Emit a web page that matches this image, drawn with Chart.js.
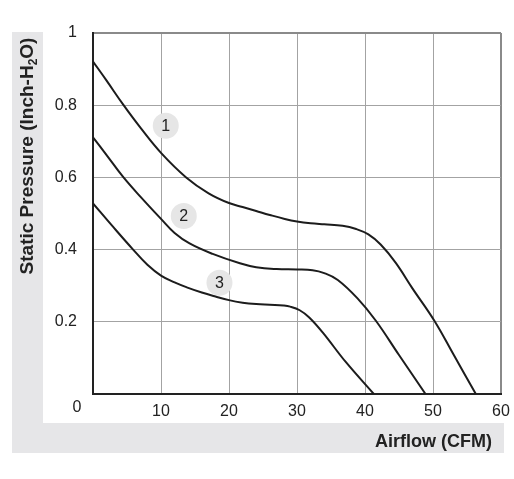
<!DOCTYPE html>
<html>
<head>
<meta charset="utf-8">
<title>Fan curve</title>
<script src="https://cdn.jsdelivr.net/npm/chart.js@4.4.0/dist/chart.umd.min.js"></script>
<style>
  html, body { margin: 0; padding: 0; background: #fff; }
</style>
</head>
<body>
<canvas id="chart" width="514" height="479"></canvas>
<script>
// airflow (CFM) and static pressure (inch-H2O)
const curve1Flow = [0, 2, 4.5, 7, 10, 13.7, 17, 20, 22, 24, 26, 28.2, 30, 32, 34, 36.7, 38.7, 40.5, 42.3, 44.5, 47, 50.2, 53, 56.3];
const curve1Pressure = [0.921, 0.868, 0.8, 0.737, 0.668, 0.6, 0.556, 0.529, 0.518, 0.507, 0.496, 0.485, 0.478, 0.473, 0.47, 0.466, 0.457, 0.442, 0.414, 0.364, 0.292, 0.203, 0.11, 0];

const curve2Flow = [0, 2, 4.4, 7, 10, 12, 14.2, 17.6, 21.6, 24, 27, 30, 32.3, 34, 36, 38.9, 41.6, 45, 48.9];
const curve2Pressure = [0.711, 0.662, 0.602, 0.546, 0.485, 0.446, 0.417, 0.388, 0.362, 0.351, 0.346, 0.345, 0.343, 0.335, 0.316, 0.265, 0.203, 0.108, 0];

const curve3Flow = [0, 3, 5.9, 8, 10, 12, 14, 16, 18, 20, 22, 24, 26, 28, 29, 30.4, 31.8, 33.8, 37.2, 41.3];
const curve3Pressure = [0.528, 0.462, 0.4, 0.358, 0.328, 0.309, 0.294, 0.281, 0.27, 0.26, 0.253, 0.249, 0.247, 0.245, 0.242, 0.232, 0.212, 0.17, 0.088, 0];

// the little numbered circles next to the curves
const markerNames = ['1', '2', '3'];
const markerFlow = [10.7, 13.35, 18.6];
const markerPressure = [0.743, 0.493, 0.308];

// tick labels
const xTicks = [0, 10, 20, 30, 40, 50, 60];
const xTickLabels = ['0', '10', '20', '30', '40', '50', '60'];
const yTicks = [0, 0.2, 0.4, 0.6, 0.8, 1];
const yTickLabels = ['0', '0.2', '0.4', '0.6', '0.8', '1'];

const canvas = document.querySelector('#chart');
const FONT = '"Liberation Sans", Arial, sans-serif';

function toPoints(xs, ys) {
    return xs.map((x, i) => ({ x: x, y: ys[i] }));
}

function curve(xs, ys) {
    return {
        data: toPoints(xs, ys),
        showLine: true,
        borderColor: '#1c1c1c',
        borderWidth: 2,
        pointRadius: 0,
        tension: 0.4,
        fill: false
    };
}

// gray bands, titles, circle numbers and the lonely 0 in the corner
const extras = {
    id: 'extras',
    beforeDraw(chart) {
        const ctx = chart.ctx;
        ctx.save();
        ctx.fillStyle = '#e6e6e8';
        ctx.fillRect(12, 32, 31, 421);
        ctx.fillRect(12, 423, 492, 30);
        ctx.restore();
    },
    afterDatasetsDraw(chart) {
        const ctx = chart.ctx;
        ctx.save();

        // numbers in the circles
        const meta = chart.getDatasetMeta(3);
        ctx.fillStyle = '#222';
        ctx.font = '16px ' + FONT;
        ctx.textAlign = 'center';
        ctx.textBaseline = 'middle';
        meta.data.forEach((pt, i) => {
            ctx.fillText(markerNames[i], pt.x, pt.y + 1);
        });

        // the 0 sits below the axes, left of the corner
        ctx.font = '16px ' + FONT;
        ctx.fillText('0', 77, 408);

        // x title
        ctx.font = 'bold 18px ' + FONT;
        ctx.textAlign = 'right';
        ctx.textBaseline = 'alphabetic';
        ctx.fillText('Airflow (CFM)', 492, 447);

        // y title, rotated, with a small 2
        const big = 'bold 19px ' + FONT;
        const small = 'bold 12px ' + FONT;
        const p1 = 'Static Pressure (Inch-H';
        const p2 = 'O)';
        ctx.font = big;
        const w1 = ctx.measureText(p1).width;
        const w3 = ctx.measureText(p2).width;
        ctx.font = small;
        const w2 = ctx.measureText('2').width;
        const total = w1 + w2 + w3;
        ctx.translate(26, 156);
        ctx.rotate(-Math.PI / 2);
        ctx.textAlign = 'left';
        let x = -total / 2;
        ctx.font = big;
        ctx.fillText(p1, x, 7);
        x += w1;
        ctx.font = small;
        ctx.fillText('2', x, 11);
        x += w2;
        ctx.font = big;
        ctx.fillText(p2, x, 7);

        ctx.restore();
    }
};

new Chart(canvas, {
    type: 'scatter',
    data: {
        datasets: [
            curve(curve1Flow, curve1Pressure),
            curve(curve2Flow, curve2Pressure),
            curve(curve3Flow, curve3Pressure),
            {
                data: toPoints(markerFlow, markerPressure),
                pointRadius: 13,
                pointHoverRadius: 13,
                pointBackgroundColor: '#e6e6e6',
                pointBorderWidth: 0,
                showLine: false
            }
        ]
    },
    options: {
        responsive: false,
        animation: false,
        events: [],
        layout: { padding: { top: 33, right: 12, left: 0, bottom: 0 } },
        plugins: {
            legend: { display: false },
            tooltip: { enabled: false }
        },
        scales: {
            x: {
                type: 'linear',
                min: 0,
                max: 60,
                afterFit: s => {
                    s.height = 85;
                    s.paddingLeft = 0;
                    s.paddingRight = 0;
                },
                afterBuildTicks: s => { s.ticks = xTicks.map(v => ({ value: v })); },
                ticks: {
                    padding: 8,
                    color: '#222',
                    font: { family: FONT, size: 16 },
                    maxRotation: 0,
                    callback: v => v === 0 ? '' : xTickLabels[xTicks.indexOf(v)]
                },
                grid: {
                    drawTicks: false,
                    color: c => c.tick && c.tick.value === 60 ? '#8a8a8a' : '#a3a3a3',
                    lineWidth: c => c.tick && c.tick.value === 60 ? 2 : 1
                },
                border: { color: '#222', width: 2 }
            },
            y: {
                type: 'linear',
                min: 0,
                max: 1,
                afterFit: s => {
                    s.width = 93;
                    s.paddingTop = 0;
                    s.paddingBottom = 0;
                },
                afterBuildTicks: s => { s.ticks = yTicks.map(v => ({ value: v })); },
                ticks: {
                    padding: 16,
                    color: '#222',
                    font: { family: FONT, size: 16 },
                    callback: v => v === 0 ? '' : yTickLabels[yTicks.indexOf(v)]
                },
                grid: {
                    drawTicks: false,
                    color: c => c.tick && c.tick.value === 1 ? '#8a8a8a' : '#a3a3a3',
                    lineWidth: c => c.tick && c.tick.value === 1 ? 2 : 1
                },
                border: { color: '#222', width: 2 }
            }
        }
    },
    plugins: [extras]
});
</script>
</body>
</html>
